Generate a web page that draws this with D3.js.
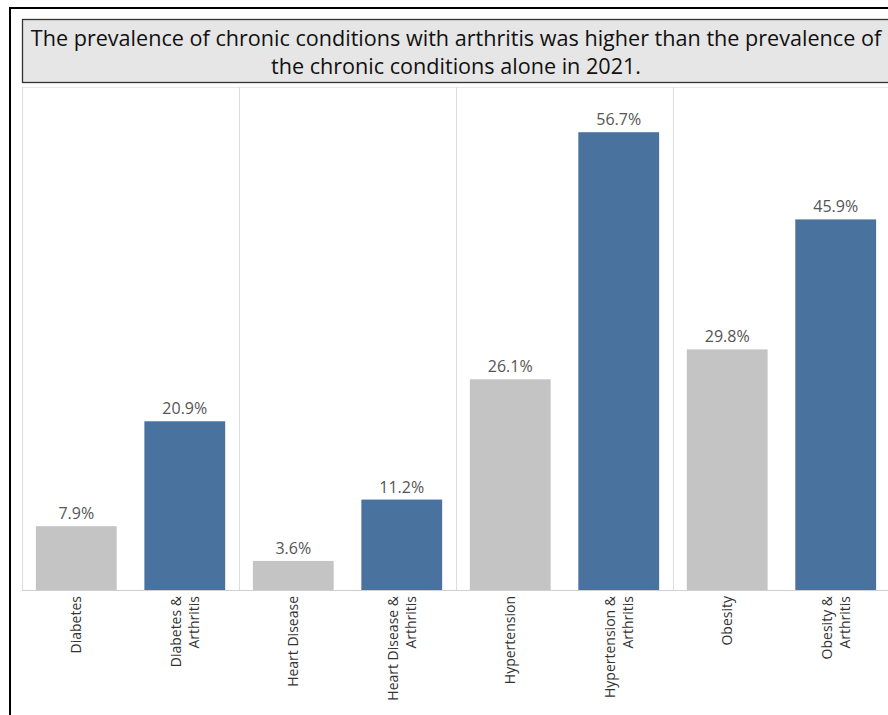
<!DOCTYPE html>
<html>
<head>
<meta charset="utf-8">
<script src="https://cdn.jsdelivr.net/npm/d3@7"></script>
<style>
  body { margin: 0; background: #fff; }
  svg { display: block; font-family: "Open Sans", "Noto Sans", sans-serif; }
</style>
</head>
<body>
<div id="chart"></div>
<script>
// data
var conditions = ["Diabetes", "Heart Disease", "Hypertension", "Obesity"];
var alone = [7.9, 3.6, 26.1, 29.8];
var withArthritis = [20.9, 11.2, 56.7, 45.9];
var titleLines = [
    "The prevalence of chronic conditions with arthritis was higher than the prevalence of",
    "the chronic conditions alone in 2021."
];

function init(){

    var w = 888;
    var h = 715;

    // flatten into one row per bar
    var bars = [];
    conditions.forEach(function(c, i){
        bars.push({ key: c, lines: [c], value: alone[i], arth: false });
        bars.push({ key: c + " & Arthritis", lines: [c + " &", "Arthritis"], value: withArthritis[i], arth: true });
    });

    var left = 22, right = 890, top = 87, bottom = 590;

    var svg = d3.select("#chart")
        .append("svg")
        .attr("width", w)
        .attr("height", h);

    // outer frame
    svg.append("rect")
        .attr("x", 10).attr("y", 8)
        .attr("width", w).attr("height", h)
        .attr("fill", "none")
        .attr("stroke", "#000")
        .attr("stroke-width", 2);

    // title box
    svg.append("rect")
        .attr("x", 22.5).attr("y", 19.5)
        .attr("width", 880).attr("height", 63)
        .attr("fill", "#e6e6e6")
        .attr("stroke", "#333")
        .attr("stroke-width", 1.3);

    svg.append("g")
        .selectAll("text")
        .data(titleLines)
        .enter()
        .append("text")
        .attr("x", 456)
        .attr("y", function(d, i){ return 46 + i * 28; })
        .attr("text-anchor", "middle")
        .style("font-size", "21.6px")
        .style("fill", "#111")
        .text(function(d){ return d; });

    var paneScale = d3.scaleBand()
        .domain(conditions)
        .range([left, right]);

    var xScale = d3.scaleBand()
        .domain(bars.map(function(d){ return d.key; }))
        .range([left, right])
        .paddingInner(0.255)
        .paddingOuter(0.128);

    var yScale = d3.scaleLinear()
        .domain([0, 62.3])
        .range([bottom, top]);

    // pane borders
    svg.append("line")
        .attr("x1", left).attr("x2", right)
        .attr("y1", top + 0.5).attr("y2", top + 0.5)
        .attr("stroke", "#e8e8e8");

    svg.append("g")
        .selectAll("line")
        .data(conditions)
        .enter()
        .append("line")
        .attr("x1", function(d){ return paneScale(d) + 0.5; })
        .attr("x2", function(d){ return paneScale(d) + 0.5; })
        .attr("y1", top)
        .attr("y2", bottom)
        .attr("stroke", "#dcdcdc");

    svg.append("line")
        .attr("x1", right - 0.5).attr("x2", right - 0.5)
        .attr("y1", top).attr("y2", bottom)
        .attr("stroke", "#dcdcdc");

    // bars
    svg.append("g")
        .selectAll("rect")
        .data(bars)
        .enter()
        .append("rect")
        .attr("x", function(d){ return xScale(d.key); })
        .attr("y", function(d){ return yScale(d.value); })
        .attr("width", xScale.bandwidth())
        .attr("height", function(d){ return bottom - yScale(d.value); })
        .attr("fill", function(d){ return d.arth ? "#4a729e" : "#c4c4c4"; });

    // value labels
    svg.append("g")
        .selectAll("text")
        .data(bars)
        .enter()
        .append("text")
        .attr("x", function(d){ return xScale(d.key) + xScale.bandwidth() / 2; })
        .attr("y", function(d){ return yScale(d.value) - 7; })
        .attr("text-anchor", "middle")
        .style("font-size", "16px")
        .style("fill", "#555")
        .text(function(d){ return d.value.toFixed(1) + "%"; });

    // baseline
    svg.append("line")
        .attr("x1", left).attr("x2", right)
        .attr("y1", bottom + 0.5).attr("y2", bottom + 0.5)
        .attr("stroke", "#d0d0d0");

    // rotated category labels
    var labels = svg.append("g")
        .selectAll("text")
        .data(bars)
        .enter()
        .append("text")
        .attr("transform", function(d){
            var cx = xScale(d.key) + xScale.bandwidth() / 2;
            return "translate(" + cx + "," + (bottom + 6) + ") rotate(-90)";
        })
        .attr("text-anchor", "end")
        .style("font-size", "14px")
        .style("fill", "#333");

    labels.selectAll("tspan")
        .data(function(d){
            return d.lines.map(function(l, i){ return { t: l, i: i, n: d.lines.length }; });
        })
        .enter()
        .append("tspan")
        .attr("x", 0)
        .attr("y", function(d){ return (d.i - (d.n - 1) / 2) * 18 + 5; })
        .text(function(d){ return d.t; });
}
window.onload = init;
</script>
</body>
</html>
